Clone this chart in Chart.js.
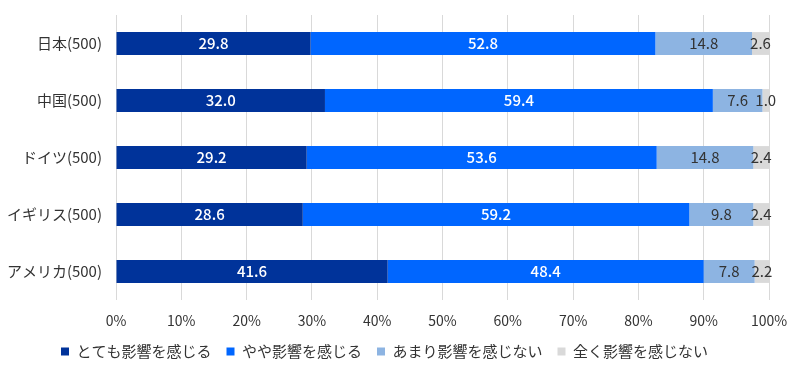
<!DOCTYPE html>
<html lang="ja">
<head>
<meta charset="utf-8">
<script src="https://cdn.jsdelivr.net/npm/chart.js@4"></script>
<style>
  html, body { margin: 0; padding: 0; background: #fff; }
  .wrap { width: 800px; height: 372px; }
</style>
</head>
<body>
<div class="wrap"><canvas id="chart" width="800" height="372"></canvas></div>
<script>
const categories = ['日本(500)', '中国(500)', 'ドイツ(500)', 'イギリス(500)', 'アメリカ(500)'];
const seriesNames = ['とても影響を感じる', 'やや影響を感じる', 'あまり影響を感じない', '全く影響を感じない'];
const veryMuch = [29.8, 32.0, 29.2, 28.6, 41.6];
const somewhat = [52.8, 59.4, 53.6, 59.2, 48.4];
const notMuch = [14.8, 7.6, 14.8, 9.8, 7.8];
const notAtAll = [2.6, 1.0, 2.4, 2.4, 2.2];
const xTicks = [0, 10, 20, 30, 40, 50, 60, 70, 80, 90, 100];

const FONT = '"Noto Sans CJK JP", "Noto Sans", sans-serif';
const colors = ['#00339a', '#0066ff', '#8db4e2', '#d9d9d9'];
const labelColors = ['#ffffff', '#ffffff', '#333333', '#333333'];

// draws the value in the middle of each segment
const segmentLabels = {
  id: 'segmentLabels',
  afterDatasetsDraw(chart) {
    const ctx = chart.ctx;
    ctx.save();
    ctx.textAlign = 'center';
    ctx.textBaseline = 'middle';
    chart.data.datasets.forEach((ds, i) => {
      const meta = chart.getDatasetMeta(i);
      ctx.fillStyle = labelColors[i];
      ctx.font = (i < 2 ? '500 ' : '400 ') + '15px ' + FONT;
      meta.data.forEach((bar, j) => {
        const x = (bar.x + bar.base) / 2;
        ctx.fillText(ds.data[j].toFixed(1), x, bar.y);
      });
    });
    ctx.restore();
  }
};

new Chart(document.getElementById('chart'), {
  type: 'bar',
  data: {
    labels: categories,
    datasets: [veryMuch, somewhat, notMuch, notAtAll].map((d, i) => ({
      label: seriesNames[i],
      data: d,
      backgroundColor: colors[i],
      barPercentage: 0.4,
      categoryPercentage: 1.0
    }))
  },
  options: {
    indexAxis: 'y',
    responsive: false,
    animation: false,
    layout: { padding: { top: 12, right: 31, left: 0, bottom: 3 } },
    plugins: {
      tooltip: { enabled: false },
      legend: {
        position: 'bottom',
        labels: {
          boxWidth: 8,
          boxHeight: 8,
          padding: 15,
          color: '#333',
          font: { family: FONT, size: 15 }
        }
      }
    },
    scales: {
      x: {
        stacked: true,
        min: 0,
        max: 100,
        afterBuildTicks(scale) { scale.ticks = xTicks.map(v => ({ value: v })); },
        afterFit(scale) { scale.height = 29; },
        ticks: {
          color: '#333',
          padding: 12,
          font: { family: '"Liberation Sans Narrow", "Noto Sans CJK JP", sans-serif', size: 14 },
          callback: v => v + '%'
        },
        grid: { color: '#d9d9d9', tickLength: 0, drawTicks: false },
        border: { display: false }
      },
      y: {
        stacked: true,
        afterFit(scale) { scale.width = 116; },
        ticks: {
          color: '#333',
          padding: 6,
          font: { family: FONT, size: 15 }
        },
        grid: { display: false },
        border: { display: false }
      }
    }
  },
  plugins: [segmentLabels]
});
</script>
</body>
</html>
